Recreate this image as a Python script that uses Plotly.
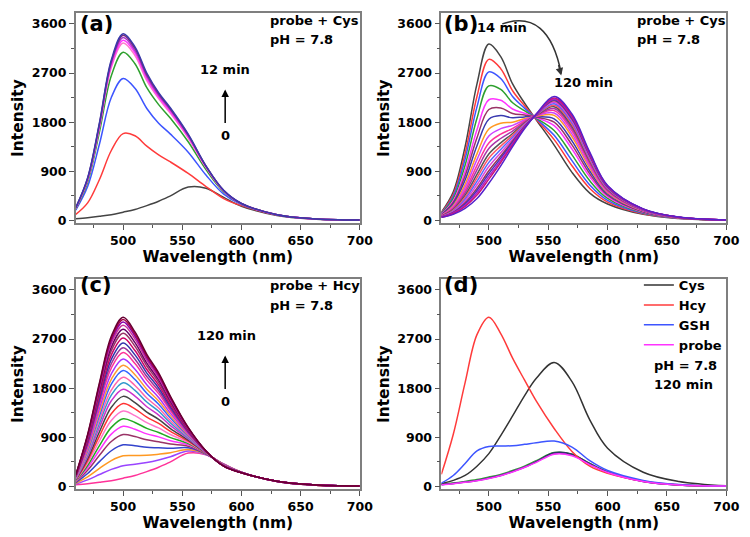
import plotly.graph_objects as go

# ---------------- data ----------------
wavelength = [460, 470, 480, 490, 500, 510, 520, 530, 540, 555, 570, 585, 600, 630, 660, 700]
x_ticks = [500, 550, 600, 650, 700]
y_ticks = [0, 900, 1800, 2700, 3600]

# (a) probe + Cys, 0 -> 12 min
a_t0 = [30, 50, 75, 105, 150, 200, 270, 350, 450, 610, 590, 420, 260, 90, 25, 5]
a_t1 = [110, 320, 750, 1280, 1590, 1550, 1360, 1200, 1070, 860, 620, 400, 270, 100, 30, 5]
a_t2 = [190, 620, 1400, 2250, 2600, 2420, 2050, 1780, 1580, 1250, 830, 480, 290, 105, 30, 5]
a_t3 = [210, 700, 1620, 2650, 3080, 2870, 2430, 2120, 1870, 1440, 930, 520, 300, 105, 30, 5]
a_t4 = [220, 740, 1700, 2800, 3250, 3020, 2560, 2230, 1960, 1510, 970, 535, 305, 105, 30, 5]
a_t5 = [225, 750, 1730, 2840, 3300, 3070, 2600, 2260, 1990, 1530, 980, 540, 305, 105, 30, 5]
a_t6 = [230, 760, 1750, 2880, 3350, 3110, 2640, 2290, 2020, 1550, 990, 545, 308, 105, 30, 5]
a_t7 = [232, 770, 1770, 2910, 3390, 3150, 2670, 2320, 2040, 1565, 995, 548, 310, 105, 30, 5]
a_t8 = [235, 780, 1790, 2940, 3420, 3180, 2700, 2340, 2060, 1580, 1000, 550, 310, 105, 30, 5]

# (b) probe + Cys, 14 -> 120 min
b01 = [150, 520, 1350, 2500, 3230, 3000, 2500, 2150, 1840, 1380, 880, 500, 300, 110, 35, 5]
b02 = [140, 475, 1225, 2270, 2950, 2780, 2375, 2100, 1850, 1480, 1000, 585, 335, 120, 38, 5]
b03 = [131, 438, 1124, 2080, 2720, 2600, 2270, 2056, 1862, 1558, 1094, 650, 368, 130, 40, 6]
b04 = [122, 397, 1011, 1870, 2465, 2400, 2155, 2009, 1873, 1647, 1201, 725, 402, 140, 43, 6]
b05 = [112, 356, 898, 1660, 2210, 2200, 2040, 1962, 1884, 1736, 1308, 800, 436, 150, 45, 6]
b06 = [105, 327, 819, 1513, 2031, 2060, 1959, 1929, 1892, 1798, 1383, 853, 460, 157, 47, 6]
b07 = [99, 299, 740, 1366, 1853, 1920, 1879, 1896, 1899, 1861, 1458, 905, 484, 164, 49, 7]
b08 = [92, 270, 661, 1219, 1674, 1780, 1798, 1863, 1907, 1923, 1533, 958, 507, 171, 50, 7]
b09 = [87, 249, 604, 1114, 1547, 1680, 1741, 1840, 1913, 1967, 1586, 995, 524, 176, 52, 7]
b10 = [83, 229, 548, 1009, 1419, 1580, 1683, 1816, 1918, 2012, 1640, 1033, 541, 181, 53, 7]
b11 = [79, 212, 502, 925, 1317, 1500, 1637, 1797, 1923, 2048, 1683, 1063, 555, 185, 54, 7]
b12 = [75, 196, 457, 841, 1215, 1420, 1591, 1779, 1927, 2083, 1725, 1093, 569, 189, 55, 7]
b13 = [72, 184, 423, 778, 1139, 1360, 1557, 1765, 1930, 2110, 1757, 1115, 579, 192, 56, 7]
b14 = [69, 171, 389, 715, 1062, 1300, 1522, 1750, 1934, 2137, 1790, 1138, 589, 195, 56, 8]
b15 = [66, 159, 356, 652, 986, 1240, 1488, 1736, 1937, 2163, 1822, 1160, 599, 198, 57, 8]
b16 = [64, 147, 322, 589, 909, 1180, 1453, 1722, 1940, 2190, 1854, 1183, 609, 201, 58, 8]
b17 = [62, 139, 299, 547, 858, 1140, 1430, 1713, 1942, 2208, 1875, 1198, 616, 203, 58, 8]
b18 = [60, 130, 276, 505, 807, 1100, 1407, 1703, 1945, 2226, 1897, 1213, 623, 205, 59, 8]
b19 = [58, 122, 254, 463, 756, 1060, 1384, 1694, 1947, 2243, 1918, 1228, 630, 207, 59, 8]
b20 = [55, 110, 220, 400, 680, 1000, 1350, 1680, 1950, 2270, 1950, 1250, 640, 210, 60, 8]

# (c) probe + Hcy, 0 -> 120 min
c01 = [30, 50, 75, 105, 150, 200, 270, 350, 450, 610, 580, 410, 260, 90, 25, 5]
c02 = [44, 120, 217, 311, 380, 405, 438, 485, 544, 647, 585, 407, 259, 90, 25, 5]
c03 = [55, 175, 329, 473, 560, 566, 569, 590, 617, 675, 590, 404, 259, 91, 26, 5]
c04 = [67, 236, 453, 653, 761, 744, 715, 708, 698, 707, 594, 402, 258, 91, 26, 5]
c05 = [79, 294, 570, 822, 949, 913, 853, 819, 775, 737, 599, 399, 257, 91, 26, 5]
c06 = [88, 340, 663, 957, 1100, 1047, 962, 907, 836, 761, 603, 397, 257, 92, 27, 5]
c07 = [96, 382, 748, 1081, 1239, 1170, 1063, 988, 893, 783, 606, 395, 256, 92, 27, 5]
c08 = [105, 425, 836, 1208, 1380, 1297, 1167, 1071, 950, 806, 609, 393, 256, 92, 27, 5]
c09 = [114, 468, 922, 1332, 1519, 1420, 1268, 1153, 1007, 828, 612, 391, 255, 92, 27, 5]
c10 = [121, 507, 1002, 1449, 1649, 1536, 1362, 1229, 1060, 849, 616, 390, 255, 93, 28, 5]
c11 = [130, 548, 1084, 1568, 1781, 1654, 1459, 1307, 1114, 870, 619, 388, 254, 93, 28, 5]
c12 = [137, 584, 1157, 1673, 1899, 1760, 1545, 1376, 1162, 889, 622, 386, 254, 93, 28, 5]
c13 = [143, 614, 1219, 1763, 2000, 1849, 1618, 1435, 1202, 905, 624, 385, 254, 93, 28, 5]
c14 = [150, 651, 1294, 1872, 2121, 1957, 1706, 1506, 1252, 924, 627, 383, 253, 93, 28, 5]
c15 = [156, 682, 1356, 1962, 2221, 2046, 1779, 1564, 1292, 940, 629, 382, 253, 94, 29, 5]
c16 = [163, 716, 1426, 2062, 2333, 2146, 1861, 1630, 1338, 958, 632, 380, 253, 94, 29, 5]
c17 = [170, 752, 1499, 2168, 2451, 2251, 1947, 1699, 1386, 977, 635, 379, 252, 94, 29, 5]
c18 = [176, 779, 1553, 2247, 2540, 2330, 2012, 1751, 1422, 991, 637, 378, 252, 94, 29, 5]
c19 = [181, 806, 1608, 2327, 2628, 2409, 2076, 1803, 1458, 1005, 639, 376, 252, 94, 29, 5]
c20 = [187, 833, 1663, 2406, 2717, 2488, 2141, 1855, 1494, 1019, 641, 375, 251, 94, 29, 5]
c21 = [192, 860, 1718, 2486, 2805, 2567, 2205, 1907, 1530, 1033, 643, 374, 251, 95, 30, 5]
c22 = [197, 883, 1763, 2552, 2879, 2633, 2259, 1950, 1560, 1045, 645, 373, 251, 95, 30, 5]
c23 = [201, 905, 1809, 2618, 2953, 2699, 2313, 1994, 1590, 1057, 647, 372, 250, 95, 30, 5]
c24 = [205, 923, 1845, 2671, 3012, 2751, 2356, 2028, 1614, 1066, 648, 371, 250, 95, 30, 5]
c25 = [207, 937, 1873, 2710, 3056, 2791, 2388, 2054, 1632, 1073, 649, 371, 250, 95, 30, 5]
c26 = [210, 950, 1900, 2750, 3100, 2830, 2420, 2080, 1650, 1080, 650, 370, 250, 95, 30, 5]

# (d) selectivity, pH 7.8, 120 min
d_names = ["Cys", "Hcy", "GSH", "probe"]
d_cys = [50, 110, 200, 370, 600, 930, 1290, 1660, 1980, 2270, 1920, 1220, 700, 260, 90, 10]
d_hcy = [220, 950, 1900, 2780, 3100, 2800, 2350, 1950, 1560, 1060, 640, 370, 240, 95, 30, 5]
d_gsh = [60, 200, 420, 650, 730, 740, 745, 770, 800, 830, 720, 470, 290, 110, 35, 5]
d_probe = [30, 50, 75, 105, 145, 195, 265, 345, 440, 590, 560, 400, 255, 90, 25, 5]
d_other1 = [40, 60, 90, 125, 170, 220, 290, 370, 470, 620, 590, 420, 265, 92, 26, 5]
d_other2 = [35, 55, 80, 110, 155, 205, 275, 355, 455, 600, 575, 410, 260, 90, 25, 5]
d_other3 = [32, 52, 78, 108, 150, 200, 272, 352, 452, 615, 590, 415, 262, 91, 25, 5]

series_a = [a_t0, a_t1, a_t2, a_t3, a_t4, a_t5, a_t6, a_t7, a_t8]
series_b = [b01, b02, b03, b04, b05, b06, b07, b08, b09, b10,
            b11, b12, b13, b14, b15, b16, b17, b18, b19, b20]
series_c = [c01, c02, c03, c04, c05, c06, c07, c08, c09, c10, c11, c12, c13,
            c14, c15, c16, c17, c18, c19, c20, c21, c22, c23, c24, c25, c26]

# ---------------- styles ----------------
colors_a = ["#444444", "#ff3b3b", "#3d55ff", "#2ea02e", "#ff77cc", "#ff33ff",
            "#aa33cc", "#7a2a7a", "#3a3aaa"]
colors_b = ["#444444", "#ff3b3b", "#3d55ff", "#2ea02e", "#ff33ff", "#993366",
            "#3a3ab0", "#ff9922", "#cc44ff", "#ff3399", "#aa33aa", "#555555",
            "#ff5566", "#5566ff", "#dd44dd", "#993355", "#4433bb", "#aa22cc",
            "#cc1177", "#5522cc"]
colors_c = ["#ff3399", "#9944ff", "#ff9922", "#3344cc", "#993366", "#ff33ff",
            "#22aa22", "#ff77cc", "#ff3333", "#444444", "#cc33cc", "#3399cc",
            "#ff66aa", "#3366ff", "#ff9933", "#aa33ff", "#ff3399", "#993399",
            "#3333aa", "#cc0066", "#993366", "#660066", "#cc3399", "#8800aa",
            "#aa0044", "#660033"]
colors_d = ["#333333", "#ff3b3b", "#3d55ff", "#ff33ff"]
colors_d_other = ["#2ea02e", "#9933cc", "#333366"]

FONT = "DejaVu Sans"
LW = 1.5

fig = go.Figure()


def add_family(series, colors, xa, ya):
    for s, c in zip(series, colors):
        fig.add_trace(go.Scatter(x=wavelength, y=s, mode="lines", xaxis=xa, yaxis=ya,
                                 line=dict(color=c, width=LW, shape="spline", smoothing=1.0),
                                 showlegend=False, hoverinfo="skip"))


add_family(series_a, colors_a, "x", "y")
add_family(series_b, colors_b, "x2", "y2")
add_family(series_c, colors_c, "x3", "y3")
add_family([d_other1, d_other2, d_other3], colors_d_other, "x4", "y4")
for name, s, c in zip(d_names, [d_cys, d_hcy, d_gsh, d_probe], colors_d):
    fig.add_trace(go.Scatter(x=wavelength, y=s, mode="lines", xaxis="x4", yaxis="y4",
                             name=name, line=dict(color=c, width=LW, shape="spline", smoothing=1.0),
                             showlegend=True))

W, H = 750, 537


def px(x):
    return x / W


def py(y):
    return 1 - y / H


def xaxis(domain, anchor):
    return dict(domain=domain, anchor=anchor, range=[460, 700], tick0=0, dtick=50,
                ticks="outside", ticklen=5, tickwidth=1.2, tickcolor="#555555",
                minor=dict(ticks="outside", ticklen=3, dtick=25, tick0=0, tickcolor="#555555"),
                showline=True, linecolor="#7f7f7f", linewidth=1.6, mirror=True,
                showgrid=False, zeroline=False,
                tickfont=dict(family=FONT, size=12.5, color="black", weight="bold"),
                title=dict(text="Wavelength (nm)", standoff=2,
                           font=dict(family=FONT, size=15.5, color="black", weight="bold")))


def yaxis(domain, anchor):
    return dict(domain=domain, anchor=anchor, range=[-55, 3800], tick0=0, dtick=900,
                ticks="outside", ticklen=5, tickwidth=1.2, tickcolor="#555555",
                minor=dict(ticks="outside", ticklen=3, dtick=450, tick0=0, tickcolor="#555555"),
                showline=True, linecolor="#7f7f7f", linewidth=1.6, mirror=True,
                showgrid=False, zeroline=False,
                tickfont=dict(family=FONT, size=12.5, color="black", weight="bold"),
                title=dict(text="Intensity", standoff=4,
                           font=dict(family=FONT, size=15.5, color="black", weight="bold")))


xl = [px(69), px(358)]
xr = [px(441), px(731)]
yt = [py(217), py(5)]
yb = [py(485), py(273)]

fig.update_layout(
    width=W, height=H, margin=dict(l=0, r=0, t=0, b=0),
    paper_bgcolor="white", plot_bgcolor="white",
    font=dict(family=FONT, color="black"),
    xaxis=xaxis(xl, "y"), yaxis=yaxis(yt, "x"),
    xaxis2=xaxis(xr, "y2"), yaxis2=yaxis(yt, "x2"),
    xaxis3=xaxis(xl, "y3"), yaxis3=yaxis(yb, "x3"),
    xaxis4=xaxis(xr, "y4"), yaxis4=yaxis(yb, "x4"),
    legend=dict(x=px(642), y=py(264), xanchor="left", yanchor="top",
                bgcolor="rgba(0,0,0,0)", itemwidth=30, tracegroupgap=0,
                font=dict(family=FONT, size=13, color="black", weight="bold")),
)

ann = []
DY = -5  # vertical correction for text placement


def text(x, y, s, size=13, anchor="left"):
    ann.append(dict(x=px(x), y=py(y + DY), xref="paper", yref="paper", text=s, showarrow=False,
                    xanchor=anchor, yanchor="middle",
                    font=dict(family=FONT, size=size, color="black", weight="bold")))


def arrow_up(x, y_head, y_tail):
    ann.append(dict(x=px(x), y=py(y_head), xref="paper", yref="paper", text="",
                    showarrow=True, ax=0, ay=y_tail - y_head, arrowhead=2, arrowsize=1,
                    arrowwidth=1.5, arrowcolor="black"))


# panel labels
text(71, 21, "(a)", 21)
text(442, 21, "(b)", 21)
text(71, 284, "(c)", 21)
text(442, 284, "(d)", 21)

# (a)
text(265, 18, "probe + Cys")
text(265, 37, "pH = 7.8")
text(221, 67, "12 min", anchor="center")
arrow_up(221, 82, 117)
text(221, 133, "0", anchor="center")

# (b)
text(638, 18, "probe + Cys")
text(638, 37, "pH = 7.8")
text(503, 25, "14 min", anchor="center")
text(586, 80, "120 min", anchor="center")
ann.append(dict(x=px(563), y=py(68), xref="paper", yref="paper", text="",
                showarrow=True, ax=-3, ay=-12, arrowhead=2, arrowsize=1,
                arrowwidth=1.5, arrowcolor="#333333"))

# (c)
text(265, 285, "probe + Hcy")
text(265, 305, "pH = 7.8")
text(222, 335, "120 min", anchor="center")
arrow_up(221, 350, 385)
text(221, 401, "0", anchor="center")

# (d)
text(655, 365, "pH = 7.8")
text(655, 384, "120 min")

fig.update_layout(annotations=ann)

# curved arrow in (b)
fig.add_shape(type="path", xref="paper", yref="paper",
              path=f"M {px(503)},{py(16)} Q {px(550)},{py(0)} {px(563)},{py(66)}",
              line=dict(color="#333333", width=1.5))

fig.write_html("out.html")
